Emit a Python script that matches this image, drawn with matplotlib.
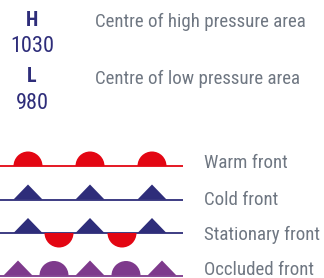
import matplotlib
matplotlib.use("Agg")
import matplotlib.pyplot as plt
from matplotlib.patches import Wedge, Polygon
from matplotlib import font_manager

names = set(f.name for f in font_manager.fontManager.ttflist)
font = "Roboto"
for cand in ["Roboto Condensed", "Liberation Sans Narrow", "Open Sans Condensed"]:
    if cand in names:
        font = cand
        break

RED = "#e30613"
NAVY = "#2e2d7a"
PURPLE = "#7e3a8c"
GREY = "#6f7782"

# pressure centres
centre_letters = ["H", "L"]
centre_values = ["1030", "980"]
centre_labels = ["Centre of high pressure area", "Centre of low pressure area"]

# fronts
front_labels = ["Warm front", "Cold front", "Stationary front", "Occluded front"]
front_y = [166, 199.5, 233, 275.5]
front_colors = [RED, NAVY, NAVY, PURPLE]
tri_up = [[], [28, 90, 152], [28, 90, 152], [18, 90, 162]]
semi_up = [[28, 90, 152], [], [], [54, 126]]
semi_down = [[], [], [59, 122], []]
semi_colors = [RED, None, RED, PURPLE]
label_y = [161, 198, 233, 268]

fig = plt.figure(figsize=(3.24, 2.78), dpi=100)
ax = fig.add_axes([0, 0, 1, 1])
ax.set_xlim(0, 324)
ax.set_ylim(278, 0)
ax.axis("off")

r = 14.5
th = 15
for i, lab in enumerate(front_labels):
    y = front_y[i]
    ax.plot([0, 183], [y, y], color=front_colors[i], lw=1.3, solid_capstyle="butt", zorder=1)
    for x in tri_up[i]:
        ax.add_patch(Polygon([(x - r, y), (x, y - th), (x + r, y)], closed=True,
                             facecolor=front_colors[i], edgecolor="none", zorder=2))
    for x in semi_up[i]:
        ax.add_patch(Wedge((x, y), r, 180, 360, facecolor=semi_colors[i], edgecolor="none", zorder=2))
    for x in semi_down[i]:
        ax.add_patch(Wedge((x, y), r, 0, 180, facecolor=semi_colors[i], edgecolor="none", zorder=2))
    ax.text(204, label_y[i], lab, fontsize=13.6, family=font,
            color=GREY, ha="left", va="center_baseline")

letter_y = [20, 77]
value_y = [46.5, 103.5]
for i in range(2):
    ax.text(32, letter_y[i], centre_letters[i], fontsize=14.5, fontweight="bold", family=font,
            color=NAVY, ha="center", va="center")
    ax.text(32, value_y[i], centre_values[i], fontsize=16, family=font,
            color=NAVY, ha="center", va="center")
    ax.text(95, letter_y[i], centre_labels[i], fontsize=13.6, family=font,
            color=GREY, ha="left", va="center_baseline")

fig.savefig("out.png", dpi=100)
